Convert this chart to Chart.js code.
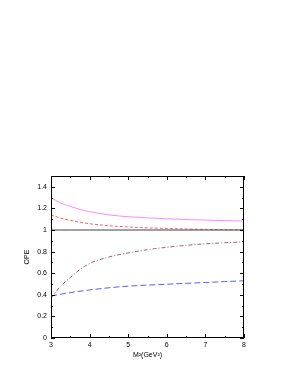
<!DOCTYPE html>
<html>
<head>
<meta charset="utf-8">
<script src="https://cdn.jsdelivr.net/npm/chart.js@4"></script>
<style>
  html, body { margin: 0; padding: 0; background: #fff; }
  #wrap { width: 295px; height: 382px; }
</style>
</head>
<body>
<div id="wrap"><canvas id="c" width="295" height="382"></canvas></div>
<script>
// Borel mass values (GeV^2)
const masses = [3, 3.25, 3.5, 3.75, 4, 4.5, 5, 5.5, 6, 6.5, 7, 7.5, 8];

// OPE contributions
const totalOPE   = [1, 1, 1, 1, 1, 1, 1, 1, 1, 1, 1, 1, 1];
const magentaOPE = [1.30, 1.25, 1.22, 1.19, 1.17, 1.14, 1.123, 1.112, 1.104, 1.097, 1.092, 1.087, 1.083];
const redOPE     = [1.14, 1.11, 1.09, 1.072, 1.058, 1.04, 1.028, 1.02, 1.014, 1.01, 1.006, 1.003, 1.0];
const brownOPE   = [0.37, 0.48, 0.56, 0.635, 0.69, 0.75, 0.788, 0.818, 0.84, 0.858, 0.872, 0.882, 0.89];
const blueOPE    = [0.39, 0.405, 0.42, 0.433, 0.445, 0.465, 0.48, 0.49, 0.498, 0.506, 0.514, 0.522, 0.53];

const xTicks = [3, 4, 5, 6, 7, 8];
const yTicks = [0, 0.2, 0.4, 0.6, 0.8, 1, 1.2, 1.4];

const pts = arr => masses.map((m, i) => ({ x: m, y: arr[i] }));

const font = { family: 'Liberation Sans, Arial, sans-serif', size: 7 };

// gnuplot-like frame with inward ticks on every side
const frameTicks = {
    id: 'frameTicks',
    afterDraw(chart) {
        const { ctx, chartArea: a, scales } = chart;
        const xs = scales.x, ys = scales.y;
        ctx.save();
        ctx.strokeStyle = '#000';
        ctx.lineWidth = 1;
        ctx.strokeRect(a.left + 0.5, a.top + 0.5, a.right - a.left - 1, a.bottom - a.top - 1);
        ctx.beginPath();
        for (let v = 3; v <= 8.001; v += 0.5) {
            const px = Math.round(xs.getPixelForValue(v)) + 0.5;
            const len = Math.abs(v - Math.round(v)) < 1e-6 ? 4 : 2;
            ctx.moveTo(px, a.bottom); ctx.lineTo(px, a.bottom - len);
            ctx.moveTo(px, a.top); ctx.lineTo(px, a.top + len);
        }
        for (let v = 0; v <= 1.5001; v += 0.1) {
            const py = Math.round(ys.getPixelForValue(v)) + 0.5;
            const major = Math.abs(v * 5 - Math.round(v * 5)) < 1e-6;
            const len = major ? 4 : 2;
            ctx.moveTo(a.left, py); ctx.lineTo(a.left + len, py);
            ctx.moveTo(a.right, py); ctx.lineTo(a.right - len, py);
        }
        ctx.stroke();
        ctx.restore();
    }
};

new Chart(document.getElementById('c'), {
    type: 'line',
    data: {
        datasets: [
            { data: pts(totalOPE), borderColor: '#404040', borderWidth: 1 },
            { data: pts(magentaOPE), borderColor: '#ff88ff', borderWidth: 1 },
            { data: pts(redOPE), borderColor: '#ff6060', borderWidth: 1, borderDash: [3, 2] },
            { data: pts(brownOPE), borderColor: '#a06080', borderWidth: 1, borderDash: [4, 2, 1, 2] },
            { data: pts(blueOPE), borderColor: '#5a5aff', borderWidth: 1, borderDash: [6, 3] }
        ]
    },
    options: {
        responsive: false,
        animation: false,
        devicePixelRatio: 1,
        layout: { padding: { left: 23, top: 176, right: 51, bottom: 23 } },
        elements: {
            point: { radius: 0 },
            line: { cubicInterpolationMode: 'monotone', fill: false }
        },
        plugins: { legend: { display: false }, tooltip: { enabled: false } },
        scales: {
            x: {
                type: 'linear', min: 3, max: 8,
                afterBuildTicks: s => { s.ticks = xTicks.map(v => ({ value: v })); },
                afterFit: s => { s.height = 21; },
                grid: { display: false, drawTicks: false },
                border: { display: false },
                ticks: { color: '#000', font, padding: 3, maxRotation: 0 },
                title: { display: true, text: 'M²(GeV²)', color: '#000', font, padding: { top: 0, bottom: 0 } }
            },
            y: {
                type: 'linear', min: 0, max: 1.5,
                afterBuildTicks: s => { s.ticks = yTicks.map(v => ({ value: v })); },
                afterFit: s => { s.width = 28; },
                grid: { display: false, drawTicks: false },
                border: { display: false },
                ticks: { color: '#000', font, padding: 4, callback: v => String(+v.toFixed(1)) },
                title: { display: true, text: 'OPE', color: '#000', font, padding: { top: 0, bottom: 0 } }
            }
        }
    },
    plugins: [frameTicks]
});
</script>
</body>
</html>
